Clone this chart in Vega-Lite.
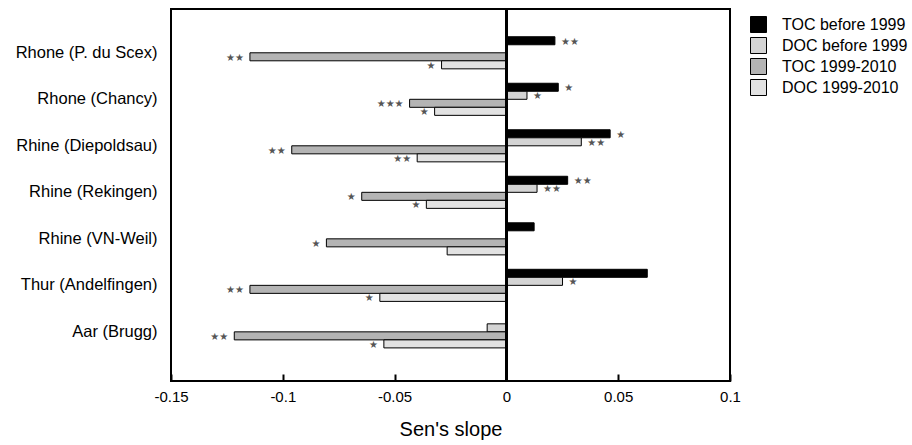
{
  "$schema": "https://vega.github.io/schema/vega-lite/v6.json",
  "width": 559,
  "height": 372,
  "autosize": {"type": "none"},
  "padding": {"left": 171, "top": 9, "right": 182, "bottom": 64},
  "background": "white",
  "config": {
    "font": "Liberation Sans",
    "view": {"stroke": "black", "strokeWidth": 2},
    "axis": {"labelColor": "black", "titleColor": "black", "grid": false}
  },
  "data": {
    "values": [
      {"river": "Rhone (P. du Scex)", "series": "TOC before 1999", "value": 0.0217, "sig": "★★"},
      {"river": "Rhone (P. du Scex)", "series": "TOC 1999-2010", "value": -0.1147, "sig": "★★"},
      {"river": "Rhone (P. du Scex)", "series": "DOC 1999-2010", "value": -0.029, "sig": "★"},
      {"river": "Rhone (Chancy)", "series": "TOC before 1999", "value": 0.0232, "sig": "★"},
      {"river": "Rhone (Chancy)", "series": "DOC before 1999", "value": 0.0092, "sig": "★"},
      {"river": "Rhone (Chancy)", "series": "TOC 1999-2010", "value": -0.0433, "sig": "★★★"},
      {"river": "Rhone (Chancy)", "series": "DOC 1999-2010", "value": -0.0321, "sig": "★"},
      {"river": "Rhine (Diepoldsau)", "series": "TOC before 1999", "value": 0.0464, "sig": "★"},
      {"river": "Rhine (Diepoldsau)", "series": "DOC before 1999", "value": 0.0335, "sig": "★★"},
      {"river": "Rhine (Diepoldsau)", "series": "TOC 1999-2010", "value": -0.096, "sig": "★★"},
      {"river": "Rhine (Diepoldsau)", "series": "DOC 1999-2010", "value": -0.0399, "sig": "★★"},
      {"river": "Rhine (Rekingen)", "series": "TOC before 1999", "value": 0.0274, "sig": "★★"},
      {"river": "Rhine (Rekingen)", "series": "DOC before 1999", "value": 0.0137, "sig": "★★"},
      {"river": "Rhine (Rekingen)", "series": "TOC 1999-2010", "value": -0.0647, "sig": "★"},
      {"river": "Rhine (Rekingen)", "series": "DOC 1999-2010", "value": -0.0358, "sig": "★"},
      {"river": "Rhine (VN-Weil)", "series": "TOC before 1999", "value": 0.0124, "sig": ""},
      {"river": "Rhine (VN-Weil)", "series": "TOC 1999-2010", "value": -0.0805, "sig": "★"},
      {"river": "Rhine (VN-Weil)", "series": "DOC 1999-2010", "value": -0.0265, "sig": ""},
      {"river": "Thur (Andelfingen)", "series": "TOC before 1999", "value": 0.063, "sig": ""},
      {"river": "Thur (Andelfingen)", "series": "DOC before 1999", "value": 0.0251, "sig": "★"},
      {"river": "Thur (Andelfingen)", "series": "TOC 1999-2010", "value": -0.1147, "sig": "★★"},
      {"river": "Thur (Andelfingen)", "series": "DOC 1999-2010", "value": -0.0566, "sig": "★"},
      {"river": "Aar (Brugg)", "series": "DOC before 1999", "value": -0.0086, "sig": ""},
      {"river": "Aar (Brugg)", "series": "TOC 1999-2010", "value": -0.1217, "sig": "★★"},
      {"river": "Aar (Brugg)", "series": "DOC 1999-2010", "value": -0.0548, "sig": "★"}
    ]
  },
  "encoding": {
    "y": {
      "field": "river",
      "type": "nominal",
      "sort": ["Rhone (P. du Scex)", "Rhone (Chancy)", "Rhine (Diepoldsau)", "Rhine (Rekingen)", "Rhine (VN-Weil)", "Thur (Andelfingen)", "Aar (Brugg)"],
      "scale": {"paddingInner": 0.31, "paddingOuter": 0.654, "align": 0.456},
      "axis": {"title": null, "domain": false, "ticks": false, "labelFontSize": 16.5, "labelPadding": 14, "labelLimit": 300}
    },
    "yOffset": {
      "field": "series",
      "type": "nominal",
      "sort": ["TOC before 1999", "DOC before 1999", "TOC 1999-2010", "DOC 1999-2010"],
      "scale": {"domain": ["TOC before 1999", "DOC before 1999", "TOC 1999-2010", "DOC 1999-2010"]}
    },
    "x": {
      "field": "value",
      "type": "quantitative",
      "scale": {"domain": [-0.15, 0.1], "nice": false, "zero": false},
      "axis": {
        "title": "Sen's slope",
        "titleFontSize": 20,
        "titleFontWeight": "normal",
        "titlePadding": 15,
        "values": [-0.15, -0.1, -0.05, 0, 0.05, 0.1],
        "labelExpr": "(datum.value < 0 ? '-' : '') + format(abs(datum.value), '~g')",
        "labelFlush": false,
        "labelOverlap": false,
        "labelFontSize": 15,
        "labelPadding": 15,
        "domain": false,
        "tickColor": "black",
        "tickWidth": 2,
        "tickSize": -7
      }
    }
  },
  "layer": [
    {
      "mark": {"type": "bar", "stroke": "black", "strokeWidth": 1},
      "encoding": {
        "color": {
          "field": "series",
          "type": "nominal",
          "scale": {
            "domain": ["TOC before 1999", "DOC before 1999", "TOC 1999-2010", "DOC 1999-2010"],
            "range": ["#000000", "#d4d4d4", "#b4b4b4", "#e2e2e2"]
          },
          "legend": {
            "title": null,
            "orient": "right",
            "offset": 13,
            "symbolType": "square",
            "symbolSize": 256,
            "symbolStrokeColor": "black",
            "symbolStrokeWidth": 1,
            "symbolOpacity": 1,
            "labelFontSize": 16,
            "labelColor": "black",
            "labelOffset": 15,
            "rowPadding": 0,
            "padding": 7
          }
        }
      }
    },
    {
      "mark": {"type": "rule", "color": "black", "strokeWidth": 2},
      "encoding": {"x": {"datum": 0}, "y": null, "yOffset": null}
    },
    {
      "transform": [{"filter": "datum.value > 0 && datum.sig != ''"}],
      "mark": {"type": "text", "align": "left", "baseline": "middle", "dx": 6, "dy": 1, "font": "DejaVu Sans", "fontSize": 10, "color": "#555555"},
      "encoding": {"text": {"field": "sig"}}
    },
    {
      "transform": [{"filter": "datum.value < 0 && datum.sig != ''"}],
      "mark": {"type": "text", "align": "right", "baseline": "middle", "dx": -6, "dy": 1, "font": "DejaVu Sans", "fontSize": 10, "color": "#555555"},
      "encoding": {"text": {"field": "sig"}}
    }
  ]
}
